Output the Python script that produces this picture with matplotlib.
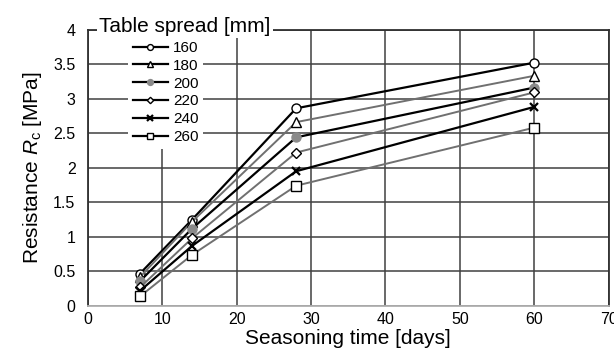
import matplotlib
matplotlib.use("Agg")
import matplotlib.pyplot as plt

plt.rcParams['font.family'] = ['Liberation Sans', 'DejaVu Sans']
plt.rcParams['mathtext.fontset'] = 'custom'
plt.rcParams['mathtext.rm'] = 'Liberation Sans'
plt.rcParams['mathtext.it'] = 'Liberation Sans:italic'

days = [7, 14, 28, 60]
spreads = ['160', '180', '200', '220', '240', '260']
s160 = [0.47, 1.25, 2.86, 3.52]
s180 = [0.42, 1.22, 2.66, 3.33]
s200 = [0.36, 1.12, 2.44, 3.16]
s220 = [0.27, 0.98, 2.22, 3.09]
s240 = [0.22, 0.87, 1.95, 2.88]
s260 = [0.14, 0.74, 1.74, 2.58]
series = [s160, s180, s200, s220, s240, s260]
xticks = [0, 10, 20, 30, 40, 50, 60, 70]
yticks = [0, 0.5, 1, 1.5, 2, 2.5, 3, 3.5, 4]
ytick_labels = ['0', '0.5', '1', '1.5', '2', '2.5', '3', '3.5', '4']

styles = [
    dict(color='black', lw=1.6, marker='o', ms=6.5, mfc='white', mec='black', mew=1.0),
    dict(color='#707070', lw=1.4, marker='^', ms=6.5, mfc='white', mec='black', mew=1.0),
    dict(color='black', lw=1.6, marker='o', ms=6.5, mfc='#8a8a8a', mec='#8a8a8a', mew=1.0),
    dict(color='#707070', lw=1.4, marker='D', ms=5.0, mfc='white', mec='black', mew=1.0),
    dict(color='black', lw=1.6, marker='x', ms=6.0, mec='black', mew=1.6),
    dict(color='#707070', lw=1.4, marker='s', ms=6.5, mfc='white', mec='black', mew=1.0),
]

fig = plt.figure(figsize=(6.14, 3.56), dpi=100)
ax = fig.add_axes([88/614, 1-306/356, (608.5-88)/614, (306-29.5)/356])

handles = []
for vals, lab, st in zip(series, spreads, styles):
    h, = ax.plot(days, vals, label=lab, zorder=3, clip_on=False, **st)
    handles.append(h)

ax.set_xlim(0, 70)
ax.set_ylim(0, 4)
ax.set_xticks(xticks)
ax.set_yticks(yticks)
ax.set_yticklabels(ytick_labels)
ax.tick_params(axis='both', length=0, labelsize=11.5)
ax.tick_params(axis='y', pad=9)
ax.tick_params(axis='x', pad=4)
ax.grid(True, color='#404040', lw=1.1, zorder=1)
ax.set_axisbelow(True)
for side in ['left', 'right', 'top']:
    ax.spines[side].set_color('#303030')
    ax.spines[side].set_linewidth(1.3)
ax.spines['bottom'].set_color('#b0b0b0')
ax.spines['bottom'].set_linewidth(1.3)

ax.set_xlabel('Seasoning time [days]', fontsize=15, labelpad=2)
ax.set_ylabel('Resistance $R_\\mathrm{c}$ [MPa]', fontsize=15, labelpad=6.5)

leg = ax.legend(handles=handles, loc='upper left', bbox_to_anchor=(40/520.5, 0.975),
                fontsize=11, frameon=True, fancybox=False, edgecolor='none',
                facecolor='white', framealpha=1.0, handlelength=2.3,
                handletextpad=0.35, labelspacing=0.25, borderpad=0.3,
                markerscale=0.65, borderaxespad=0)
leg.set_zorder(5)
for lh in leg.legend_handles:
    lh.set_color('black')
    lh.set_linewidth(1.6)

ax.text(13.5/520.5*70 - 0.3, 4.045, 'Table spread [mm]', fontsize=15, ha='left', va='center',
        bbox=dict(facecolor='white', edgecolor='none', pad=1.5), zorder=6, clip_on=False)

fig.savefig('out.png', dpi=100)
